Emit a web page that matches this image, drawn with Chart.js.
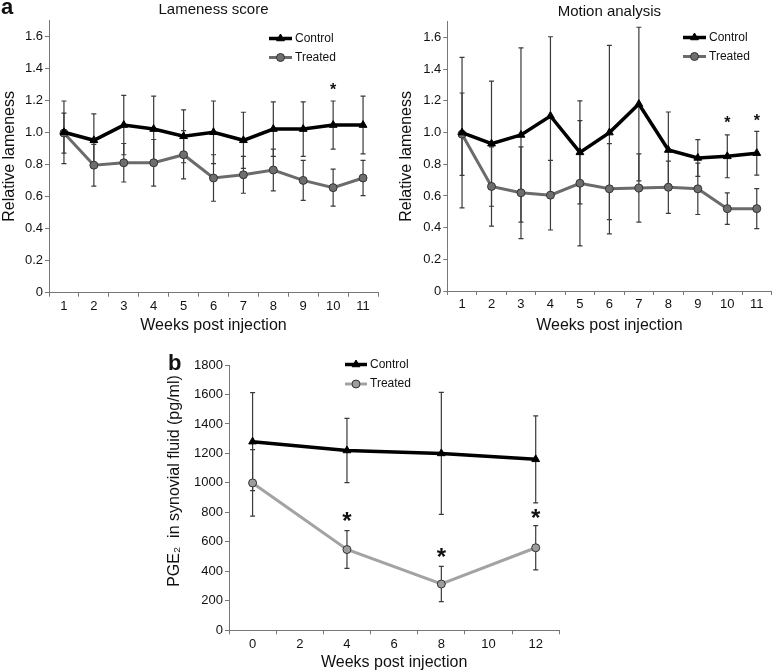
<!DOCTYPE html>
<html>
<head>
<meta charset="utf-8">
<script src="https://cdn.jsdelivr.net/npm/chart.js@4.4.1/dist/chart.umd.min.js"></script>
<style>
  body { margin: 0; background: #fff; }
  #wrap { position: relative; width: 777px; height: 672px; font-family: "Liberation Sans", Arial, sans-serif; }
  canvas { position: absolute; }
  .panel { position: absolute; font-weight: bold; font-size: 22px; line-height: 22px; color: #111; }
</style>
</head>
<body>
<div id="wrap">
  <canvas id="lameChart" width="385" height="335" style="left:0;top:0"></canvas>
  <canvas id="motionChart" width="392" height="335" style="left:385px;top:0"></canvas>
  <canvas id="pgeChart" width="480" height="337" style="left:150px;top:335px"></canvas>
  <div class="panel" style="left:1px;top:-4px">a</div>
  <div class="panel" style="left:168px;top:352px">b</div>
</div>
<script>
// weekly scores, panel a
const weeks = ["1", "2", "3", "4", "5", "6", "7", "8", "9", "10", "11"];

const lameControl = [1.0, 0.95, 1.045, 1.02, 0.975, 1.0, 0.95, 1.02, 1.02, 1.045, 1.045];
const lameControlErr = [0.195, 0.165, 0.185, 0.205, 0.165, 0.195, 0.175, 0.17, 0.17, 0.15, 0.18];
const lameTreated = [0.995, 0.795, 0.81, 0.81, 0.86, 0.715, 0.735, 0.765, 0.7, 0.655, 0.715];
const lameTreatedErr = [0.125, 0.13, 0.12, 0.145, 0.15, 0.145, 0.115, 0.13, 0.125, 0.115, 0.11];
const lameStarWeeks = ["10"];
const lameStarY = [1.29];

const motionControl = [1.0, 0.93, 0.985, 1.105, 0.875, 1.0, 1.18, 0.89, 0.84, 0.85, 0.87];
const motionControlErr = [0.475, 0.395, 0.55, 0.5, 0.325, 0.55, 0.485, 0.24, 0.116, 0.135, 0.138];
const motionTreated = [0.99, 0.66, 0.62, 0.605, 0.68, 0.645, 0.65, 0.655, 0.645, 0.52, 0.52];
const motionTreatedErr = [0.26, 0.25, 0.29, 0.22, 0.395, 0.285, 0.215, 0.165, 0.162, 0.1, 0.126];
const motionStarWeeks = ["10", "11"];
const motionStarY = [1.087, 1.1];

// PGE2, panel b
const pgeTicks = ["0", "2", "4", "6", "8", "10", "12"];
const pgeWeeks = ["0", "4", "8", "12"];
const pgeControl = [1280, 1220, 1200, 1160];
const pgeControlErr = [333, 218, 414, 295];
const pgeTreated = [1000, 548, 314, 560];
const pgeTreatedErr = [226, 128, 120, 150];
const pgeStarWeeks = ["4", "8", "12"];
const pgeStarY = [783, 534, 801];

const FONT = '"Liberation Sans", Arial, sans-serif';
Chart.defaults.font.family = FONT;
Chart.defaults.color = "#111";

const errorBars = {
  id: "errorBars",
  beforeDatasetsDraw(chart, args, opts) {
    const ctx = chart.ctx;
    const y = chart.scales.y;
    ctx.save();
    ctx.strokeStyle = opts.color;
    ctx.lineWidth = opts.width;
    chart.data.datasets.forEach((ds, i) => {
      if (!ds.errors) return;
      chart.getDatasetMeta(i).data.forEach((pt, j) => {
        const v = typeof ds.data[j] === "object" ? ds.data[j].y : ds.data[j];
        const top = y.getPixelForValue(v + ds.errors[j]);
        const bot = y.getPixelForValue(v - ds.errors[j]);
        ctx.beginPath();
        ctx.moveTo(pt.x, top);
        ctx.lineTo(pt.x, bot);
        ctx.moveTo(pt.x - opts.cap, top);
        ctx.lineTo(pt.x + opts.cap, top);
        ctx.moveTo(pt.x - opts.cap, bot);
        ctx.lineTo(pt.x + opts.cap, bot);
        ctx.stroke();
      });
    });
    ctx.restore();
  },
};

const stars = {
  id: "stars",
  afterDatasetsDraw(chart, args, opts) {
    if (!opts.weeks) return;
    const { ctx, scales } = chart;
    const labels = scales.x.getLabels();
    ctx.save();
    ctx.font = "bold " + opts.size + "px " + FONT;
    ctx.fillStyle = "#111";
    ctx.textAlign = "center";
    ctx.textBaseline = "alphabetic";
    opts.weeks.forEach((w, i) => {
      const px = scales.x.getPixelForValue(labels.indexOf(w));
      const py = scales.y.getPixelForValue(opts.values[i]);
      ctx.fillText("*", px, py + opts.size * 0.57);
    });
    ctx.restore();
  },
};

const seriesKey = {
  id: "seriesKey",
  afterDraw(chart, args, opts) {
    const ctx = chart.ctx;
    ctx.save();
    ctx.font = "12px " + FONT;
    ctx.textBaseline = "middle";
    chart.data.datasets.forEach((ds, i) => {
      const y = opts.y + i * opts.gap;
      ctx.strokeStyle = ds.borderColor;
      ctx.lineWidth = ds.borderWidth;
      ctx.beginPath();
      ctx.moveTo(opts.x, y);
      ctx.lineTo(opts.x + opts.len, y);
      ctx.stroke();
      ctx.fillStyle = ds.pointBackgroundColor;
      ctx.strokeStyle = ds.pointBorderColor;
      ctx.lineWidth = ds.pointBorderWidth;
      Chart.helpers.drawPoint(ctx, {
        pointStyle: ds.pointStyle,
        radius: ds.pointRadius,
        borderWidth: ds.pointBorderWidth,
        rotation: 0,
      }, opts.x + opts.len / 2, y);
      ctx.fillStyle = "#111";
      ctx.fillText(ds.label, opts.x + opts.len + 3, y);
    });
    ctx.restore();
  },
};

const sideTitle = {
  id: "sideTitle",
  afterDraw(chart, args, opts) {
    if (!opts.text) return;
    const ctx = chart.ctx;
    ctx.save();
    ctx.translate(opts.x, opts.y);
    ctx.rotate(-Math.PI / 2);
    ctx.font = "16px " + FONT;
    ctx.fillStyle = "#111";
    ctx.textAlign = "center";
    ctx.textBaseline = "middle";
    ctx.fillText(opts.text, 0, 0);
    ctx.restore();
  },
};

function makeSets(control, controlErr, treated, treatedErr, grey, greyFill, xs) {
  const pts = (arr) => (xs ? arr.map((v, i) => ({ x: xs[i], y: v })) : arr);
  return [
    {
      label: "Control",
      data: pts(control),
      errors: controlErr,
      borderColor: "#000",
      borderWidth: 3.5,
      pointStyle: "triangle",
      pointRadius: 4.5,
      pointBackgroundColor: "#000",
      pointBorderColor: "#000",
      pointBorderWidth: 1,
      tension: 0,
    },
    {
      label: "Treated",
      data: pts(treated),
      errors: treatedErr,
      borderColor: grey,
      borderWidth: 3,
      pointStyle: "circle",
      pointRadius: 4,
      pointBackgroundColor: greyFill,
      pointBorderColor: "#333",
      pointBorderWidth: 1,
      tension: 0,
    },
  ];
}

function makeOptions(cfg) {
  const axisColor = "#777";
  return {
    responsive: false,
    animation: false,
    events: [],
    layout: { padding: cfg.padding },
    plugins: {
      legend: { display: false },
      tooltip: { enabled: false },
      title: cfg.title
        ? { display: true, text: cfg.title, fullSize: false, color: "#111", font: { size: 15, weight: "normal" }, padding: cfg.titlePad }
        : { display: false },
      errorBars: { color: "#3a3a3a", width: 1.2, cap: 2.5 },
      stars: cfg.stars,
      seriesKey: cfg.key,
      sideTitle: cfg.side || {},
    },
    scales: {
      x: {
        offset: true,
        grid: { offset: true, drawOnChartArea: false, tickLength: 4, color: axisColor },
        border: { color: axisColor },
        ticks: { color: "#111", font: { size: 13 }, padding: 2, autoSkip: false, maxRotation: 0 },
        title: { display: true, text: "Weeks post injection", color: "#111", font: { size: 16 }, padding: 0 },
        afterFit: (s) => { s.height = cfg.xHeight; },
      },
      y: {
        min: 0,
        max: cfg.yMax,
        ticks: { stepSize: cfg.step, color: "#111", font: { size: 13 }, padding: 2, callback: cfg.fmt },
        afterBuildTicks: (s) => {
          s.ticks = s.ticks.filter((t) => Math.abs(t.value / cfg.step - Math.round(t.value / cfg.step)) < 1e-6);
        },
        grid: { drawOnChartArea: false, tickLength: 4, color: axisColor },
        border: { color: axisColor },
        title: cfg.yLabel
          ? { display: true, text: cfg.yLabel, color: "#111", font: { size: 16 }, padding: { top: cfg.yTitlePad, bottom: 0 } }
          : { display: false },
        afterFit: (s) => { s.width = cfg.yWidth; },
      },
    },
  };
}

const decFmt = (v) => (v === 0 ? "0" : Number(v).toFixed(1));

new Chart(document.getElementById("lameChart"), {
  type: "line",
  data: {
    labels: weeks,
    datasets: makeSets(lameControl, lameControlErr, lameTreated, lameTreatedErr, "#6b6b6b", "#6e6e6e"),
  },
  options: makeOptions({
    padding: { left: 0, right: 7, top: 0, bottom: 0 },
    title: "Lameness score",
    titlePad: { top: 1, bottom: 1 },
    yMax: 1.7, step: 0.2, fmt: decFmt,
    yLabel: "Relative lameness", yTitlePad: 0, yWidth: 49,
    xHeight: 42.3,
    stars: { weeks: lameStarWeeks, values: lameStarY, size: 16 },
    key: { x: 269, y: 38.5, gap: 19, len: 23 },
  }),
  plugins: [errorBars, stars, seriesKey, sideTitle],
});

new Chart(document.getElementById("motionChart"), {
  type: "line",
  data: {
    labels: weeks,
    datasets: makeSets(motionControl, motionControlErr, motionTreated, motionTreatedErr, "#6b6b6b", "#6e6e6e"),
  },
  options: makeOptions({
    padding: { left: 0, right: 1.4, top: 0, bottom: 0 },
    title: "Motion analysis",
    titlePad: { top: 2.7, bottom: 1 },
    yMax: 1.7, step: 0.2, fmt: decFmt,
    yLabel: "Relative lameness", yTitlePad: 12, yWidth: 62.3,
    xHeight: 44,
    stars: { weeks: motionStarWeeks, values: motionStarY, size: 16 },
    key: { x: 298, y: 37.5, gap: 19, len: 23 },
  }),
  plugins: [errorBars, stars, seriesKey, sideTitle],
});

new Chart(document.getElementById("pgeChart"), {
  type: "line",
  data: {
    labels: pgeTicks,
    datasets: makeSets(pgeControl, pgeControlErr, pgeTreated, pgeTreatedErr, "#a3a3a3", "#9d9d9d", pgeWeeks),
  },
  options: makeOptions({
    padding: { left: 0, right: 70.7, top: 30, bottom: 0 },
    title: null,
    yMax: 1800, step: 200, fmt: (v) => String(v),
    yLabel: null, yWidth: 79,
    xHeight: 41.7,
    side: { text: "PGE\u2082  in synovial fluid (pg/ml)", x: 25, y: 146 },
    stars: { weeks: pgeStarWeeks, values: pgeStarY, size: 24 },
    key: { x: 195, y: 29.5, gap: 19.5, len: 22 },
  }),
  plugins: [errorBars, stars, seriesKey, sideTitle],
});
</script>
</body>
</html>
